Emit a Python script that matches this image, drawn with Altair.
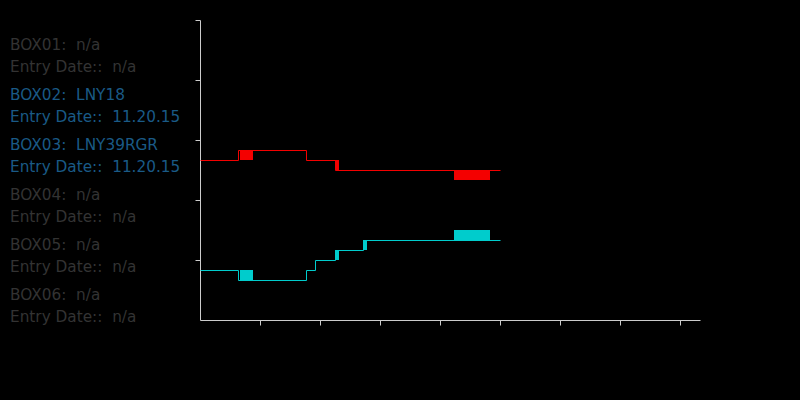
import altair as alt
import pandas as pd
import jinja2

# ---- data ----
red_x = [0, 3.8, 10.6, 13.5, 30]
red_y = [16, 17, 16, 15, 15]
cyan_x = [0, 3.8, 10.6, 11.5, 13.5, 16.3, 30]
cyan_y = [5, 4, 5, 6, 7, 8, 8]

red_box_x1 = [4.0, 13.5, 25.4]
red_box_x2 = [5.3, 13.9, 29.0]
red_box_y1 = [16, 15, 14]
red_box_y2 = [17, 16, 15]

cyan_box_x1 = [4.0, 13.5, 16.3, 25.4]
cyan_box_x2 = [5.3, 13.9, 16.7, 29.0]
cyan_box_y1 = [4, 6, 7, 8]
cyan_box_y2 = [5, 7, 8, 9]

box_names = ["BOX01", "BOX02", "BOX03", "BOX04", "BOX05", "BOX06"]
box_codes = ["n/a", "LNY18", "LNY39RGR", "n/a", "n/a", "n/a"]
box_dates = ["n/a", "11.20.15", "11.20.15", "n/a", "n/a", "n/a"]

x_ticks = [6, 12, 18, 24, 30, 36, 42, 48]
y_ticks = [6, 12, 18, 24, 30]

SP = "\u00a0\u00a0"

lines = pd.DataFrame({
    "x": red_x + cyan_x,
    "y": red_y + cyan_y,
    "series": ["red"] * len(red_x) + ["cyan"] * len(cyan_x),
})
boxes = pd.DataFrame({
    "x1": red_box_x1 + cyan_box_x1,
    "x2": red_box_x2 + cyan_box_x2,
    "y1": red_box_y1 + cyan_box_y1,
    "y2": red_box_y2 + cyan_box_y2,
    "series": ["red"] * len(red_box_x1) + ["cyan"] * len(cyan_box_x1),
})

rows = []
for i, (n, c, d) in enumerate(zip(box_names, box_codes, box_dates)):
    rows.append({"idx": 2 * i, "label": f"{n}:{SP}{c}", "active": c != "n/a"})
    rows.append({"idx": 2 * i + 1, "label": f"Entry Date::{SP}{d}", "active": c != "n/a"})
labels = pd.DataFrame(rows)

xs = alt.Scale(domain=[0, 50], nice=False, zero=False)
ys = alt.Scale(domain=[0, 30], nice=False, zero=False)
cs = alt.Scale(domain=["red", "cyan"], range=["#f40000", "#00cccc"])

xaxis = alt.Axis(values=x_ticks, labels=False, title=None, grid=False)
yaxis = alt.Axis(values=y_ticks, labels=False, title=None, grid=False)

line_layer = alt.Chart(lines).mark_line(
    interpolate="step-after", strokeWidth=1, xOffset=0.5, yOffset=0.5
).encode(
    x=alt.X("x:Q", scale=xs, axis=xaxis),
    y=alt.Y("y:Q", scale=ys, axis=yaxis),
    color=alt.Color("series:N", scale=cs, legend=None),
    detail="series:N",
)

box_layer = alt.Chart(boxes).mark_rect().encode(
    x=alt.X("x1:Q", scale=xs, axis=xaxis),
    x2="x2:Q",
    y=alt.Y("y1:Q", scale=ys, axis=yaxis),
    y2="y2:Q",
    color=alt.Color("series:N", scale=cs, legend=None),
)

text_layer = alt.Chart(labels).transform_calculate(
    ty="27 - 5*floor(datum.idx/2) - 2.2*(datum.idx % 2)"
).mark_text(
    align="left", baseline="alphabetic", font="DejaVu Sans", fontSize=15.3
).encode(
    x=alt.value(-190),
    y=alt.Y("ty:Q", scale=ys, axis=yaxis),
    text="label:N",
    color=alt.condition("datum.active", alt.value("#1a5a86"), alt.value("#333333")),
)

chart = alt.layer(box_layer, line_layer, text_layer).properties(
    width=500,
    height=300,
    background="#000000",
    autosize=alt.AutoSizeParams(type="none"),
    padding={"left": 192, "top": 12, "right": 90, "bottom": 70},
).configure_view(stroke=None).configure_axis(
    domainColor="#cccccc", tickColor="#cccccc", tickSize=5, domainWidth=1, tickWidth=1
)

page = jinja2.Template("""<!DOCTYPE html>
<html>
<head>
  <style>html, body { background: #000000; }</style>
  <script type="text/javascript" src="{{ base_url }}/vega@{{ vega_version }}"></script>
  <script type="text/javascript" src="{{ base_url }}/vega-lite@{{ vegalite_version }}"></script>
  <script type="text/javascript" src="{{ base_url }}/vega-embed@{{ vegaembed_version }}"></script>
</head>
<body>
  <div id="{{ output_div }}"></div>
  <script type="text/javascript">
    (function(vegaEmbed) {
      var spec = {{ spec }};
      var embedOpt = {{ embed_options }};
      function showError(el, error){
          el.innerHTML = ('<div style="color:red;"><p>JavaScript Error: ' + error.message + '</p></div>');
          throw error;
      }
      const el = document.getElementById('{{ output_div }}');
      vegaEmbed("#{{ output_div }}", spec, embedOpt).catch(error => showError(el, error));
    })(vegaEmbed);
  </script>
</body>
</html>
""")

chart.save("out.html", embed_options={"renderer": "svg", "actions": False}, template=page)
